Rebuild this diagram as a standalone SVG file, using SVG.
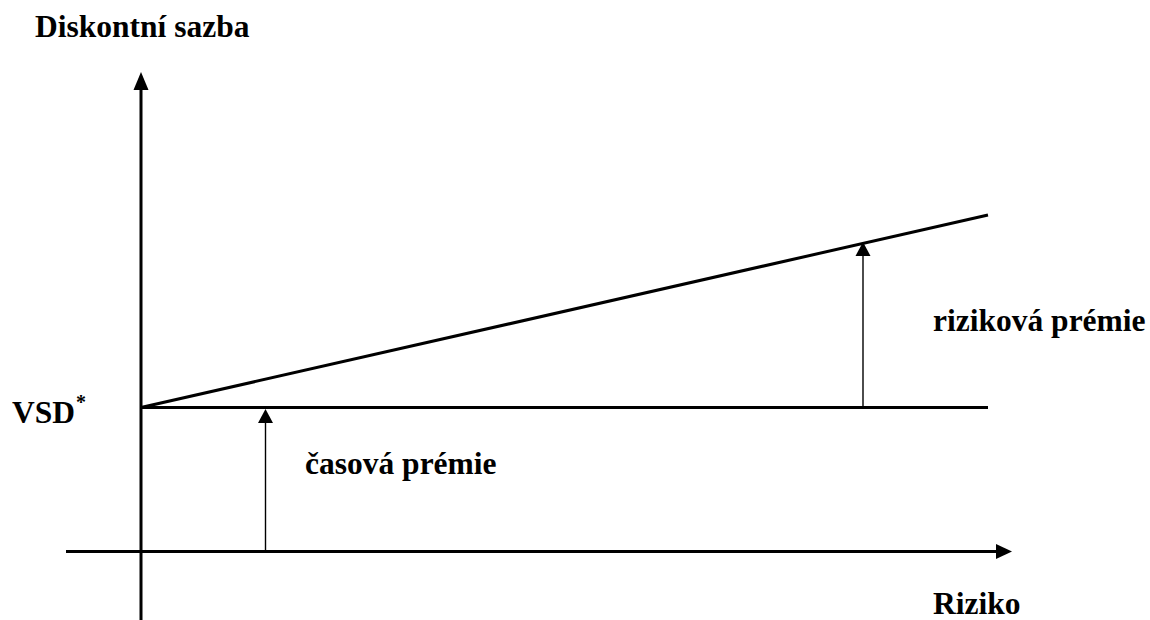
<svg xmlns="http://www.w3.org/2000/svg" width="1150" height="620" viewBox="0 0 1150 620">
<style>
.lbl{font-family:'Liberation Serif',serif;font-weight:bold;font-size:31.5px;fill:#000}
.sup{font-family:'Liberation Serif',serif;font-weight:bold;font-size:20px;fill:#000}
.thick{stroke:#000;stroke-width:3;fill:none}
.thin{stroke:#000;stroke-width:1.4;fill:none}
.head{fill:#000;stroke:none}
</style>
<rect width="1150" height="620" fill="#fff"/>
<g id="connectors">
  <line class="thick" x1="141" y1="620" x2="141" y2="86"/>
  <polygon class="head" points="141,72 133.5,90 148.5,90"/>
  <line class="thick" x1="66" y1="551.5" x2="998" y2="551.5"/>
  <polygon class="head" points="1012,551.5 996,544 996,559"/>
  <line class="thick" x1="141" y1="407.5" x2="988" y2="407.5"/>
  <line class="thick" x1="141" y1="407.5" x2="988" y2="215"/>
  <line class="thin" x1="265.5" y1="551" x2="265.5" y2="420"/>
  <polygon class="head" points="265.5,409 258,423 273,423"/>
  <line class="thin" x1="863" y1="407" x2="863" y2="254"/>
  <polygon class="head" points="863,242 855.5,256 870.5,256"/>
</g>
<g id="label-y"><text class="lbl" x="35" y="37">Diskontní sazba</text></g>
<g id="label-vsd"><text class="lbl" x="12" y="423">VSD</text><text class="sup" x="76" y="409">*</text></g>
<g id="label-casova"><text class="lbl" x="305" y="474">časová prémie</text></g>
<g id="label-rizikova"><text class="lbl" x="933" y="331">riziková prémie</text></g>
<g id="label-x"><text class="lbl" x="933" y="614">Riziko</text></g>
</svg>
